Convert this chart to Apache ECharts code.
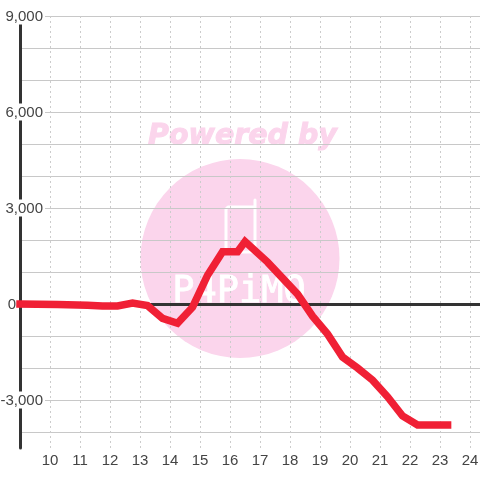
<!DOCTYPE html>
<html><head><meta charset="utf-8">
<script src="https://cdn.jsdelivr.net/npm/echarts@6/dist/echarts.min.js"></script>
<style>html,body{margin:0;padding:0;background:#fff}#c{width:480px;height:480px}</style></head>
<body><div id="c"></div>
<script>
const hours = [9,10.25,11.25,11.75,12.25,12.75,13.25,13.75,14.25,14.75,15.25,15.75,16.25,16.5,17.25,17.75,18.25,18.75,19.25,19.75,20.25,20.75,21.25,21.75,22.25,23.25];
const values = [0,-15,-40,-60,-60,30,-50,-450,-600,-100,900,1630,1630,1950,1310,810,310,-380,-940,-1660,-2000,-2380,-2900,-3500,-3780,-3780];
const xTicks = [10,11,12,13,14,15,16,17,18,19,20,21,22,23,24];
const yLabels = [-3000,0,3000,6000,9000];
const chart = echarts.init(document.getElementById('c'),null,{renderer:'canvas'});
const font = '"Liberation Sans",Arial,sans-serif';
const labelBase = {color:'#444',fontSize:15,fontFamily:font,lineHeight:15};
chart.setOption({
  animation:false,
  backgroundColor:'#fff',
  grid:{left:20,right:0,top:16,bottom:32,outerBoundsMode:'none'},
  graphic:[
    {type:'circle',z:-10,shape:{cx:240,cy:258.5,r:99.5},style:{fill:'#fbd5ec'}},
    {type:'text',z:-10,x:242.5,y:136.5,style:{text:'Powered by',font:'italic bold 28.5px "DejaVu Sans"',fill:'#fbd5ec',stroke:'#fbd5ec',lineWidth:1,align:'center',verticalAlign:'middle'}},
    {type:'polyline',z:-9,shape:{points:[[255,200],[255,252],[226,252],[226,209],[228,207],[255,207]]},style:{stroke:'#fff',fill:'none',lineWidth:3,lineCap:'round',lineJoin:'round'}},
    {type:'text',z:-9,x:239,y:292,style:{text:'P4PiMO',font:'37px "DejaVu Sans Mono"',fill:'#fff',stroke:'#fff',lineWidth:0.8,align:'center',verticalAlign:'middle'}}
  ],
  xAxis:{type:'value',min:9,max:24.33,interval:1,
    axisLine:{show:false},axisTick:{show:false},
    axisLabel:{color:'#444',fontSize:15,fontFamily:font,margin:5,customValues:xTicks},
    splitLine:{show:true,showMinLine:false,lineStyle:{color:'#ccc',width:1,type:[2,3]}}},
  yAxis:{type:'value',min:-4500,max:9000,interval:500,
    axisLine:{show:true,onZero:false,lineStyle:{color:'#333',width:3}},axisTick:{show:false},
    axisLabel:{show:true,customValues:yLabels,margin:-25,color:'#444',fontSize:15,fontFamily:font,
      formatter:v=>v===0?'{z|0}':'{b|'+v.toLocaleString('en-US')+'}',
      rich:{
        b:Object.assign({},labelBase,{backgroundColor:'#fff',padding:[2,2,0,2]}),
        z:Object.assign({},labelBase,{padding:[2,29,0,0]})
      }},
    splitLine:{show:true,lineStyle:{color:['transparent','#c8c8c8'],width:1}}},
  series:[{type:'line',data:hours.map((h,i)=>[h,values[i]]),showSymbol:false,symbol:'none',
    lineStyle:{color:'#f02035',width:7.5,cap:'square',join:'miter'},z:5,clip:false,
    markLine:{silent:true,symbol:'none',label:{show:false},data:[{yAxis:0}],lineStyle:{color:'#333',width:3,type:'solid'},z:3}}]
});
</script></body></html>
